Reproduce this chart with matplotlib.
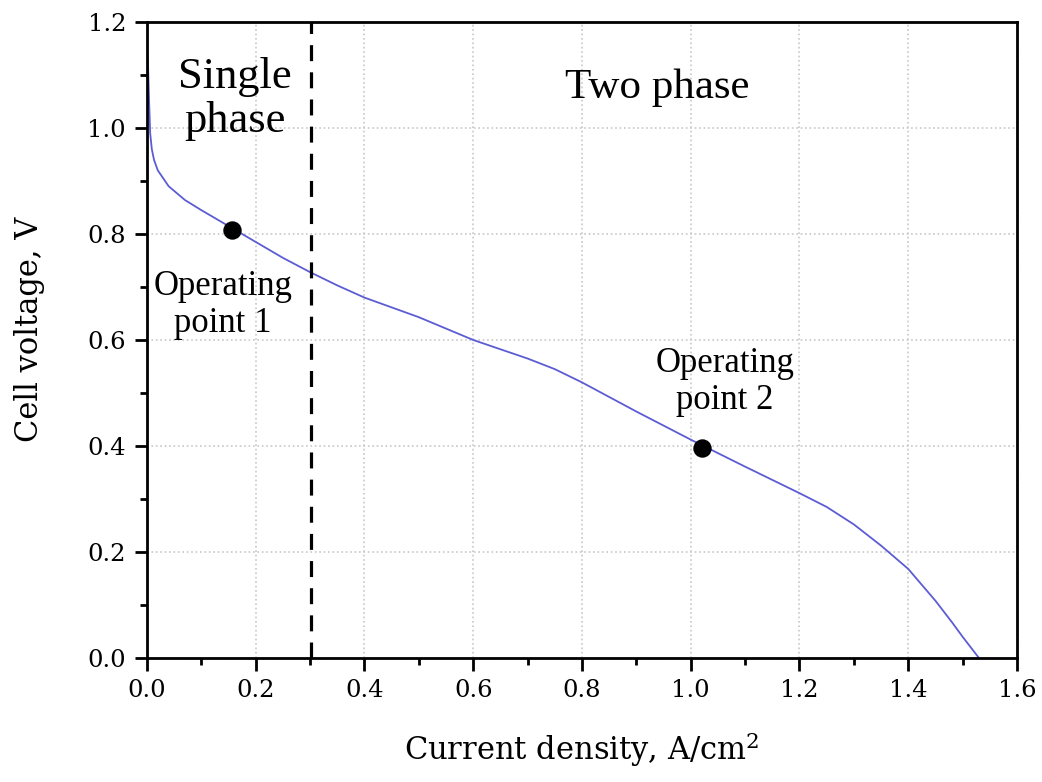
import matplotlib
matplotlib.use("Agg")
import matplotlib.pyplot as plt
from matplotlib.ticker import MultipleLocator

plt.rcParams['font.family'] = ['Liberation Serif', 'DejaVu Serif']
plt.rcParams['mathtext.fontset'] = 'dejavuserif'

# polarization curve
current = [0.0, 0.002, 0.004, 0.006, 0.009, 0.013, 0.02, 0.04, 0.07, 0.1, 0.15, 0.2, 0.25, 0.3,
           0.35, 0.4, 0.5, 0.6, 0.7, 0.75, 0.8, 0.9, 1.0, 1.1, 1.2, 1.25, 1.3, 1.35, 1.4,
           1.45, 1.48, 1.5, 1.53]
voltage = [1.15, 1.12, 1.05, 0.99, 0.96, 0.94, 0.92, 0.89, 0.864, 0.845, 0.815, 0.785, 0.755, 0.728,
           0.703, 0.68, 0.643, 0.60, 0.565, 0.545, 0.52, 0.465, 0.412, 0.361, 0.311, 0.285, 0.252, 0.212, 0.168,
           0.108, 0.068, 0.04, 0.0]

op_x = [0.156, 1.02]
op_y = [0.808, 0.396]
boundary = 0.302

fig = plt.figure(figsize=(10.42, 7.82), dpi=100)
ax = fig.add_axes([0.141, 0.1586, 0.835, 0.8133])

ax.plot(current, voltage, color='#5c5cd4', lw=1.3)
ax.scatter(op_x, op_y, s=150, color='black', zorder=5)
ax.axvline(boundary, color='black', ls=(0, (5, 3.5)), lw=2.3)

ax.set_xlim(0, 1.6)
ax.set_ylim(0, 1.2)
ax.xaxis.set_major_locator(MultipleLocator(0.2))
ax.xaxis.set_minor_locator(MultipleLocator(0.1))
ax.yaxis.set_major_locator(MultipleLocator(0.2))
ax.yaxis.set_minor_locator(MultipleLocator(0.1))
ax.xaxis.set_major_formatter(lambda v, p: f"{v:.1f}")
ax.yaxis.set_major_formatter(lambda v, p: f"{v:.1f}")

ax.grid(True, which='major', color='#c8c8c8', ls=':', lw=1.2)
ax.tick_params(which='both', direction='out', top=False, right=False, width=2)
ax.tick_params(which='major', length=9, labelsize=17.5, pad=6)
ax.tick_params(which='minor', length=5)
for lab in ax.get_xticklabels() + ax.get_yticklabels():
    lab.set_family('DejaVu Serif')
for s in ax.spines.values():
    s.set_linewidth(2)

ax.set_xlabel('Current density, A/cm$^2$', fontsize=22, family='DejaVu Serif', labelpad=20)
ax.set_ylabel('Cell voltage, V', fontsize=22, family='DejaVu Serif')
ax.yaxis.set_label_coords(-0.117, 0.517)

ax.text(0.162, 1.055, 'Single\nphase', fontsize=32, ha='center', va='center', linespacing=1.12)
ax.text(0.938, 1.075, 'Two phase', fontsize=31, ha='center', va='center')
ax.text(0.14, 0.666, 'Operating\npoint 1', fontsize=25, ha='center', va='center', linespacing=1.15)
ax.text(1.063, 0.521, 'Operating\npoint 2', fontsize=25, ha='center', va='center', linespacing=1.15)

fig.savefig('out.png', dpi=100)
